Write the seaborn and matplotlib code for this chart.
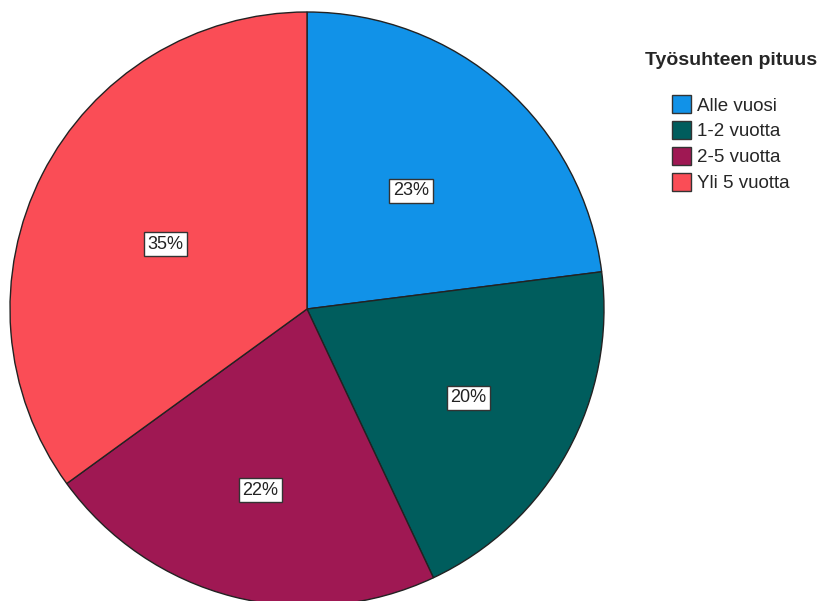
import matplotlib
matplotlib.use("Agg")
import matplotlib.pyplot as plt
import seaborn as sns
import numpy as np

categories = ["Alle vuosi", "1-2 vuotta", "2-5 vuotta", "Yli 5 vuotta"]
shares = [23, 20, 22, 35]
legend_title = "Työsuhteen pituus"

sns.set_theme(style="white")
plt.rcParams["font.family"] = ["Liberation Sans", "DejaVu Sans"]

colors = sns.color_palette(["#1192e8", "#005d5d", "#9f1853", "#fa4d56"])

W, H = 819, 601
fig = plt.figure(figsize=(W / 100, H / 100), dpi=100)
fig.patch.set_facecolor("white")

cx, cy, r = 307, 309, 297
ax = fig.add_axes([(cx - r) / W, (H - cy - r) / H, 2 * r / W, 2 * r / H])

wedges, texts, autotexts = ax.pie(
    shares,
    colors=colors,
    startangle=90,
    counterclock=False,
    radius=1,
    autopct=lambda p: f"{p:.0f}%",
    pctdistance=0.56,
    wedgeprops=dict(edgecolor="#222222", linewidth=1.0),
    textprops=dict(fontsize=13, color="#222222"),
)
ax.set_aspect("auto")
ax.set_xlim(-1, 1)
ax.set_ylim(-1, 1)
ax.axis("off")

# radial placement of each percentage box
label_radius = [0.53, 0.62, 0.63, 0.525]
label_shift = [0, 0, 0, 2.5]  # degrees
for w, t, lr, sh in zip(wedges, autotexts, label_radius, label_shift):
    ang = np.deg2rad((w.theta1 + w.theta2) / 2 + sh)
    t.set_position((lr * np.cos(ang), lr * np.sin(ang)))
    t.set_bbox(dict(boxstyle="square,pad=0.2", facecolor="white",
                    edgecolor="#333333", linewidth=1.0))

leg = fig.legend(
    wedges, categories,
    title=legend_title,
    loc="upper left",
    bbox_to_anchor=(628 / W, 1 - 35 / H),
    frameon=False,
    fontsize=13.5,
    title_fontproperties=dict(weight="bold", size=14),
    handlelength=1.0,
    handleheight=1.1,
    handletextpad=0.3,
    labelspacing=0.34,
)
leg._legend_box.sep = 19
for h in leg.legend_handles:
    h.set_edgecolor("#333333")
    h.set_linewidth(1.0)

fig.savefig("out.png", dpi=100, facecolor="white")
